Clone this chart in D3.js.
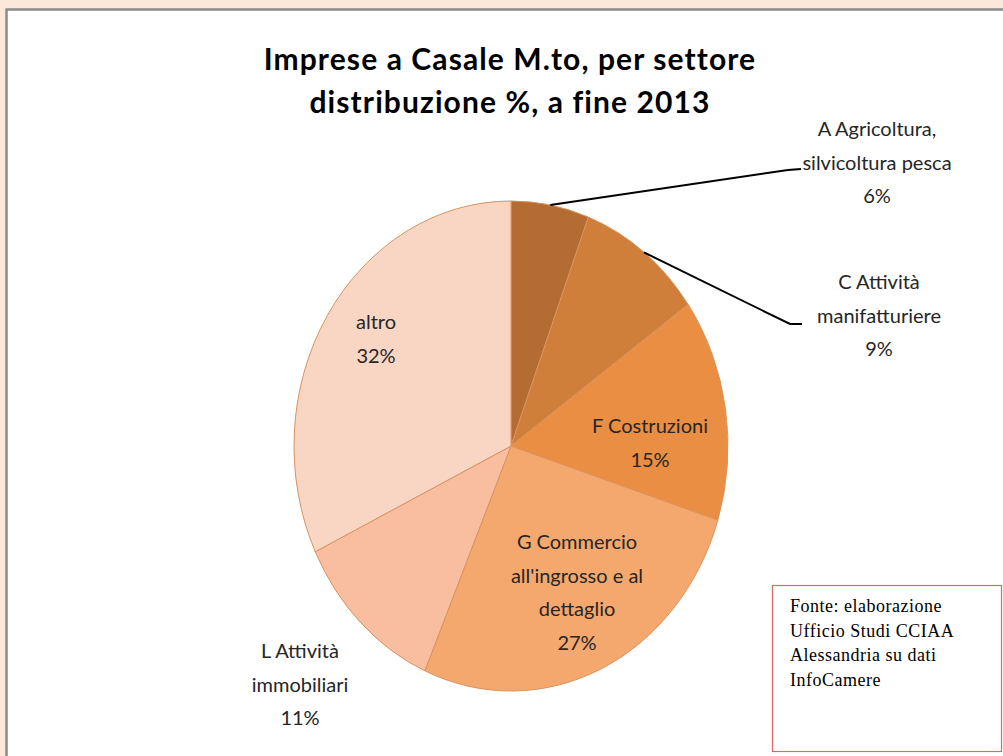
<!DOCTYPE html>
<html>
<head>
<meta charset="utf-8">
<script src="https://cdn.jsdelivr.net/npm/d3@7"></script>
<style>
  body { margin: 0; background: #fce8da; }
  svg { display: block; }
</style>
</head>
<body>
<svg width="1003" height="756"></svg>
<script>
// data
const sectors = ["A Agricoltura, silvicoltura pesca", "C Attività manifatturiere", "F Costruzioni",
  "G Commercio all'ingrosso e al dettaglio", "L Attività immobiliari", "altro"];
const shares = [5.8, 9.4, 14.7, 26.6, 11.4, 32.1];
const labelLines = [
  ["A Agricoltura,", "silvicoltura pesca"],
  ["C Attività", "manifatturiere"],
  ["F Costruzioni"],
  ["G Commercio", "all'ingrosso e al", "dettaglio"],
  ["L Attività", "immobiliari"],
  ["altro"]
];
const colors = ["#b46c32", "#d07f3a", "#ea8e43", "#f5a86e", "#f8be9f", "#f9d6c4"];
const titleLines = ["Imprese a Casale M.to, per settore", "distribuzione %, a fine 2013"];
const sourceLines = ["Fonte: elaborazione", "Ufficio Studi CCIAA", "Alessandria su dati", "InfoCamere"];

// label layout (anchor = centre x, first baseline y), leader end for outside labels
const labelPos = [
  {x: 877, y: 136, leader: [[788, 170], [801, 169]]},
  {x: 879, y: 289, leader: [[790, 324], [802, 324]]},
  {x: 650, y: 433},
  {x: 577, y: 549},
  {x: 300, y: 658},
  {x: 376, y: 329}
];

const svg = d3.select("svg");
const width = +svg.attr("width");
const height = +svg.attr("height");

// chart area
svg.append("rect")
  .attr("x", 6.5).attr("y", 9.5)
  .attr("width", width + 20).attr("height", height + 20)
  .attr("fill", "#fff")
  .attr("stroke", "#8a8a8a")
  .attr("stroke-width", 2.5);

// title
svg.append("g").selectAll("text")
  .data(titleLines)
  .join("text")
  .attr("x", 510)
  .attr("y", (d, i) => 70 + i * 43)
  .attr("text-anchor", "middle")
  .style("font-family", "Lato, 'Open Sans', sans-serif")
  .style("font-weight", "bold")
  .style("font-size", "30px")
  .style("letter-spacing", "1.1px")
  .style("fill", "#000")
  .text(d => d);

// pie (slightly stretched vertically like the original)
const cx = 511, cy = 446, ry = 245, rx = 217;
const pie = d3.pie().sort(null).value(d => d);
const arcs = pie(shares);
const arc = d3.arc().innerRadius(0).outerRadius(ry);

const pieG = svg.append("g")
  .attr("transform", `translate(${cx},${cy}) scale(${rx / ry},1)`);

pieG.selectAll("path")
  .data(arcs)
  .join("path")
  .attr("d", arc)
  .attr("fill", (d, i) => colors[i])
  .attr("stroke", "#d9935e")
  .attr("stroke-width", 1)
  .attr("vector-effect", "non-scaling-stroke");

// leader lines for outside labels
const edgePoint = d => {
  const a = (d.startAngle + d.endAngle) / 2;
  return [cx + Math.sin(a) * rx, cy - Math.cos(a) * ry];
};
svg.append("g").selectAll("polyline")
  .data(arcs.filter((d, i) => labelPos[i].leader))
  .join("polyline")
  .attr("points", d => [edgePoint(d)].concat(labelPos[d.index].leader).map(p => p.join(",")).join(" "))
  .attr("fill", "none")
  .attr("stroke", "#000")
  .attr("stroke-width", 2);

// data labels
const labels = svg.append("g")
  .style("font-family", "Lato, 'Open Sans', sans-serif")
  .style("font-size", "20px")
  .style("fill", "#262626");

arcs.forEach((d, i) => {
  const lines = labelLines[i].concat([Math.round(d.data) + "%"]);
  labels.append("text")
    .attr("text-anchor", "middle")
    .selectAll("tspan")
    .data(lines)
    .join("tspan")
    .attr("x", labelPos[i].x)
    .attr("y", (t, j) => labelPos[i].y + j * 33.5)
    .text(t => t);
});

// source note
svg.append("rect")
  .attr("x", 772.5).attr("y", 585.5)
  .attr("width", 229).attr("height", 166)
  .attr("fill", "#fff")
  .attr("stroke", "#e06666")
  .attr("stroke-width", 1.2);

svg.append("g").selectAll("text")
  .data(sourceLines)
  .join("text")
  .attr("x", 790)
  .attr("y", (d, i) => 612 + i * 24.5)
  .style("font-family", "'Liberation Serif', 'DejaVu Serif', serif")
  .style("font-size", "18px")
  .style("letter-spacing", "0.5px")
  .style("fill", "#000")
  .text(d => d);
</script>
</body>
</html>
